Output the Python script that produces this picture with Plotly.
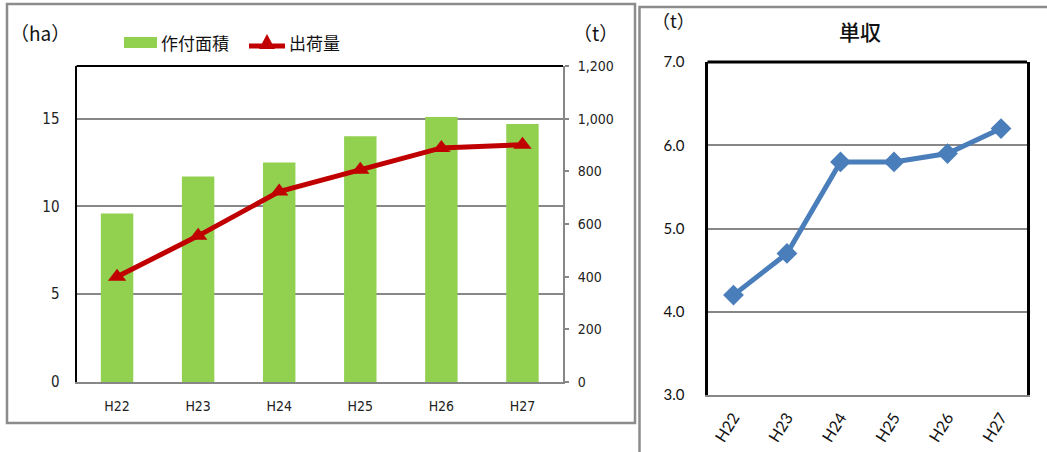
import plotly.graph_objects as go

years = ["H22", "H23", "H24", "H25", "H26", "H27"]
area_ha = [9.6, 11.7, 12.5, 14.0, 15.1, 14.7]
shipment_t = [400, 555, 723, 806, 889, 901]
yield_t = [4.2, 4.7, 5.8, 5.8, 5.9, 6.2]

W, H = 1047, 452
def px(x): return x / W
def py(y): return 1 - y / H

GRID = "#878787"
NARROW = "Liberation Sans Narrow, Arial Narrow, DejaVu Sans Condensed, sans-serif"
JP = "Noto Sans CJK JP, sans-serif"
GREEN = "#92d050"
RED = "#c00000"
BLUE = "#4a7ebb"

fig = go.Figure()
fig.add_trace(go.Bar(x=years, y=area_ha, name="作付面積", marker_color=GREEN,
                     width=0.4, xaxis="x", yaxis="y", showlegend=False))
fig.add_trace(go.Scatter(x=years, y=shipment_t, name="出荷量", mode="lines+markers",
                         line=dict(color=RED, width=5),
                         marker=dict(symbol="triangle-up", size=16, color=RED),
                         xaxis="x", yaxis="y2", showlegend=False))
fig.add_trace(go.Scatter(x=years, y=yield_t, name="単収", mode="lines+markers",
                         line=dict(color=BLUE, width=5),
                         marker=dict(symbol="diamond", size=16, color=BLUE),
                         xaxis="x3", yaxis="y3", showlegend=False))

L0, L1, LT, LB = 76.5, 563, 66, 382
R0, R1, RT, RB = 707.5, 1027, 62, 395

fig.update_layout(
    template="none",
    width=W, height=H, margin=dict(l=0, r=0, t=0, b=0, autoexpand=False),
    paper_bgcolor="white", plot_bgcolor="white",
    showlegend=False,
    xaxis=dict(domain=[px(L0), px(L1)], anchor="y", showline=True, linecolor=GRID, linewidth=2,
               showgrid=False, ticks="", automargin=False, ticklabelstandoff=10,
               tickfont=dict(family=NARROW, size=14, color="#222"), fixedrange=True),
    yaxis=dict(domain=[py(LB), py(LT)], range=[0, 18], dtick=5, showline=True, linecolor="black",
               linewidth=2, showgrid=True, gridcolor=GRID, gridwidth=2, zeroline=False,
               ticks="", automargin=False,
               tickfont=dict(family=NARROW, size=15, color="#222"), ticklabelstandoff=12),
    yaxis2=dict(overlaying="y", side="right", range=[0, 1200], dtick=200, tickformat=",",
                showline=True, linecolor=GRID, linewidth=2, showgrid=False, zeroline=False,
                ticks="outside", ticklen=4, tickwidth=2, tickcolor=GRID, automargin=False,
                tickfont=dict(family=NARROW, size=14, color="#222"), ticklabelstandoff=6),
    xaxis3=dict(domain=[px(R0), px(R1)], anchor="y3", showline=True, linecolor=GRID, linewidth=2,
                showgrid=False, ticks="", tickangle=-58, automargin=False, ticklabelstandoff=5,
                tickfont=dict(family="Lato, sans-serif", size=16, color="#111"), fixedrange=True),
    yaxis3=dict(domain=[py(RB), py(RT)], range=[3, 7], dtick=1, tickformat=".1f", anchor="x3",
                showline=True, mirror=True, linecolor="black", linewidth=3, automargin=False,
                showgrid=True, gridcolor=GRID, gridwidth=2, zeroline=False, ticks="",
                tickfont=dict(family="Lato, sans-serif", size=15, color="#111"), ticklabelstandoff=17),
    font=dict(family=JP),
)

tri = "M {} {} L {} {} L {} {} Z".format(px(259), py(49), px(275), py(49), px(267), py(34))

shapes = [
    # left frame
    dict(type="rect", xref="paper", yref="paper", x0=px(7), x1=px(635), y0=py(423), y1=py(4),
         line=dict(color="#8c8c8c", width=2.5)),
    # right frame
    dict(type="rect", xref="paper", yref="paper", x0=px(639.5), x1=px(1060), y0=py(470), y1=py(7),
         line=dict(color="#8c8c8c", width=2.5)),
    # left chart top black line
    dict(type="line", xref="paper", yref="paper", x0=px(L0), x1=px(L1), y0=py(LT), y1=py(LT),
         line=dict(color="black", width=2)),
    # right chart top black line
    dict(type="line", xref="paper", yref="paper", x0=px(R0), x1=px(R1), y0=py(RT), y1=py(RT),
         line=dict(color="black", width=3)),
    # legend: green swatch
    dict(type="rect", xref="paper", yref="paper", x0=px(124), x1=px(157), y0=py(48), y1=py(37),
         fillcolor=GREEN, line=dict(width=0)),
    # legend: red line + triangle
    dict(type="line", xref="paper", yref="paper", x0=px(249), x1=px(285), y0=py(46), y1=py(46),
         line=dict(color=RED, width=5)),
    dict(type="path", xref="paper", yref="paper", path=tri, fillcolor=RED, line=dict(width=0)),
]
fig.update_layout(shapes=shapes)

annotations = [
    dict(text="（ha）", x=px(8), y=py(33), xref="paper", yref="paper", showarrow=False,
         xanchor="left", yanchor="middle", font=dict(family=JP, size=19, color="#111")),
    dict(text="（t）", x=px(571), y=py(33), xref="paper", yref="paper", showarrow=False,
         xanchor="left", yanchor="middle", font=dict(family=JP, size=19, color="#111")),
    dict(text="（t）", x=px(650), y=py(20), xref="paper", yref="paper", showarrow=False,
         xanchor="left", yanchor="middle", font=dict(family=JP, size=18, color="#111")),
    dict(text="単収", x=px(860), y=py(31), xref="paper", yref="paper", showarrow=False,
         xanchor="center", yanchor="middle", font=dict(family="Noto Sans CJK JP Medium, Noto Sans CJK JP, sans-serif", size=21, color="#111")),
    dict(text="作付面積", x=px(159), y=py(42), xref="paper", yref="paper", showarrow=False,
         xanchor="left", yanchor="middle", font=dict(family=JP, size=17, color="#111")),
    dict(text="出荷量", x=px(287), y=py(42), xref="paper", yref="paper", showarrow=False,
         xanchor="left", yanchor="middle", font=dict(family=JP, size=17, color="#111")),
]
fig.update_layout(annotations=annotations)

fig.write_html("out.html")
